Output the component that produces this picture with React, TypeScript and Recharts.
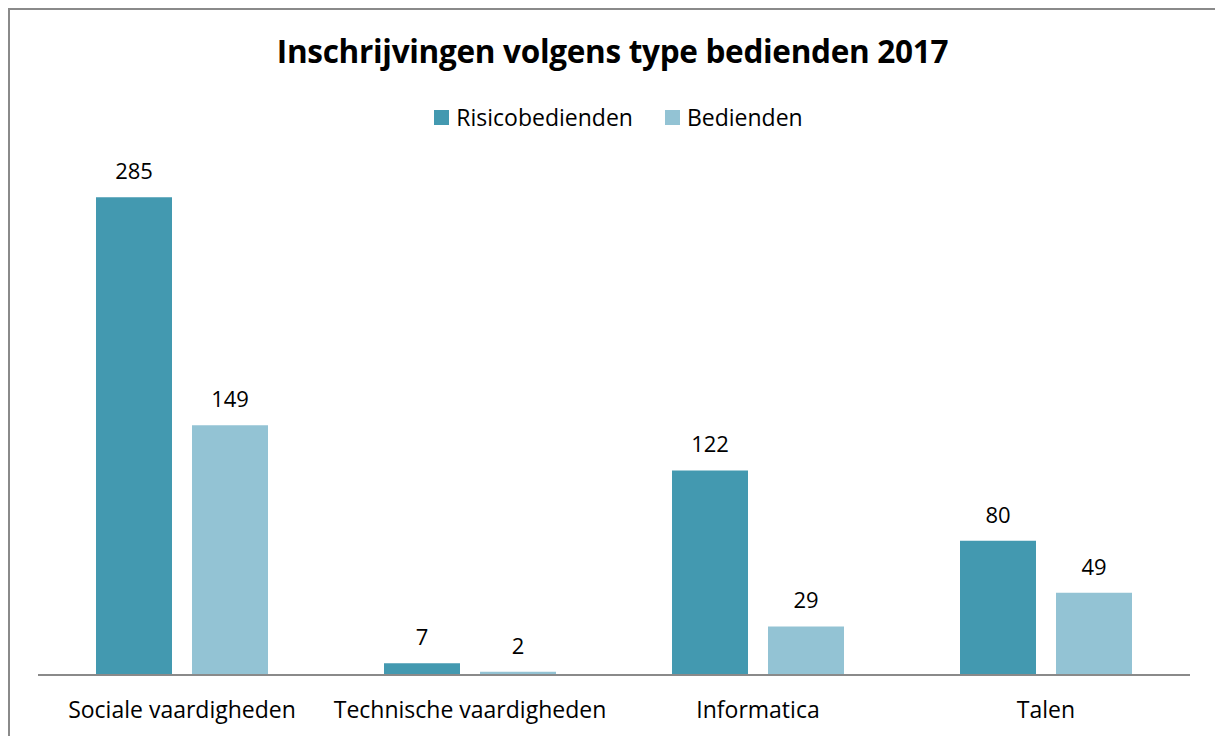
import { BarChart, Bar, XAxis, YAxis, LabelList } from 'recharts';

const CATEGORIES = ['Sociale vaardigheden', 'Technische vaardigheden', 'Informatica', 'Talen'];
const RISICO = [285, 7, 122, 80];
const BEDIENDEN = [149, 2, 29, 49];

const DARK = '#4399B0';
const LIGHT = '#93C3D4';
const FONT = '"Open Sans", sans-serif';

const data = CATEGORIES.map((name, i) => ({
  name,
  risico: RISICO[i],
  bedienden: BEDIENDEN[i],
}));

export default function App() {
  return (
    <div style={{ position: 'fixed', left: 0, top: 0, width: 1215, height: 736, background: '#fff', overflow: 'hidden', fontFamily: FONT }}>
      {/* chart frame, runs off the right and bottom edges */}
      <div style={{ position: 'absolute', left: 8, top: 8, width: 1300, height: 800, border: '2px solid #8a8a8a', boxSizing: 'border-box' }} />
      <div style={{ position: 'absolute', left: 0, top: 29, width: 1225, textAlign: 'center', fontSize: 31.5, fontWeight: 700, color: '#000', letterSpacing: -0.3, lineHeight: '44px' }}>
        Inschrijvingen volgens type bedienden 2017
      </div>
      <div style={{ position: 'absolute', left: 0, top: 100, width: 1237, display: 'flex', justifyContent: 'center', alignItems: 'center', fontSize: 23, color: '#000', lineHeight: '34px' }}>
        <span style={{ width: 15, height: 15, background: DARK, display: 'inline-block', marginRight: 7 }} />
        <span style={{ marginRight: 32 }}>Risicobedienden</span>
        <span style={{ width: 15, height: 15, background: LIGHT, display: 'inline-block', marginRight: 7 }} />
        <span>Bedienden</span>
      </div>
      <div style={{ position: 'absolute', left: 0, top: 0 }}>
        <BarChart
          width={1215}
          height={736}
          data={data}
          margin={{ top: 172, right: 25, bottom: 0, left: 38 }}
          barCategoryGap={58}
          barGap={20}
        >
          <XAxis
            dataKey="name"
            height={61}
            tickLine={false}
            axisLine={{ stroke: '#8a8a8a', strokeWidth: 2 }}
            tick={{ fill: '#000', fontSize: 23, fontFamily: FONT }}
            tickMargin={21}
            interval={0}
          />
          <YAxis hide domain={[0, 300]} />
          <Bar dataKey="risico" fill={DARK} isAnimationActive={false}>
            <LabelList dataKey="risico" position="top" offset={18} fill="#000" fontSize={22} fontFamily={FONT} />
          </Bar>
          <Bar dataKey="bedienden" fill={LIGHT} isAnimationActive={false}>
            <LabelList dataKey="bedienden" position="top" offset={18} fill="#000" fontSize={22} fontFamily={FONT} />
          </Bar>
        </BarChart>
      </div>
    </div>
  );
}
